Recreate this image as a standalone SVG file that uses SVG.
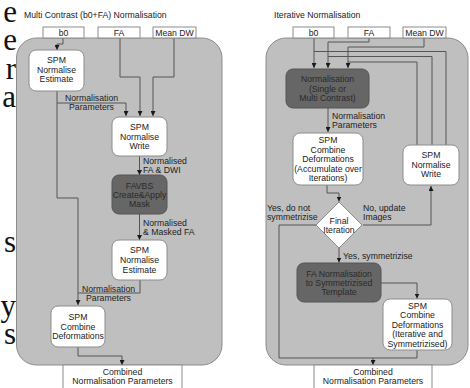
<svg xmlns="http://www.w3.org/2000/svg" width="470" height="388" viewBox="0 0 470 388">
<defs>
<marker id="ah" markerUnits="userSpaceOnUse" markerWidth="5" markerHeight="5" refX="5" refY="2.5" orient="auto">
<path d="M0,0 L5,2.5 L0,5 z" fill="#1a1a1a"/>
</marker>
<style>
.bg{font-family:"Liberation Serif",serif;font-size:31px;fill:#111;text-anchor:end}
.title{font-family:"Liberation Sans",Arial,sans-serif;font-size:8.7px;fill:#222}
.panel{fill:#bfbfbf;stroke:#8c8c8c;stroke-width:1}
.io{fill:#fff;stroke:#8c8c8c;stroke-width:1}
.node{fill:#fff;stroke:#8c8c8c;stroke-width:1}
.dark{fill:#666;stroke:#555;stroke-width:1}
.t{font-family:"Liberation Sans",Arial,sans-serif;font-size:8.7px;fill:#222;text-anchor:middle}
.td{font-family:"Liberation Sans",Arial,sans-serif;font-size:8.7px;fill:#2a2a2a;text-anchor:middle}
.l{font-family:"Liberation Sans",Arial,sans-serif;font-size:8.7px;fill:#222}
.e{fill:none;stroke:#555;stroke-width:1}
.a{marker-end:url(#ah)}
</style>
</defs>
<rect width="470" height="388" fill="#fff"/>
<g id="background-text">
<text class="bg" x="17" y="22">e</text>
<text class="bg" x="17" y="50">e</text>
<text class="bg" x="16" y="79">r</text>
<text class="bg" x="16" y="107">a</text>
<text class="bg" x="16" y="252">s</text>
<text class="bg" x="16" y="316">y</text>
<text class="bg" x="16" y="344">s</text>
</g>
<g id="titles">
<text class="title" x="24" y="18">Multi Contrast (b0+FA) Normalisation</text>
<text class="title" x="274" y="18">Iterative Normalisation</text>
</g>
<g id="panels">
<rect class="panel" x="16.5" y="38" width="205.5" height="327" rx="20"/>
<rect class="panel" x="266" y="38" width="202" height="327" rx="20"/>
</g>
<g id="connectors">
<path class="e a" d="M63,38 V44 H57 V50"/>
<path class="e a" d="M57,91 V198 H78 V305"/>
<path class="e a" d="M57,103 H126 V116"/>
<path class="e a" d="M120,38 V77 H140 V116"/>
<path class="e a" d="M174,38 V77 H153 V116"/>
<path class="e a" d="M139.5,156 V175"/>
<path class="e a" d="M139.5,214 V240"/>
<path class="e" d="M140,280 V293 H78"/>
<path class="e a" d="M78,347 V356 H122 V365"/>
<path class="e a" d="M314,38 V68"/>
<path class="e a" d="M369,38 V42 H328 V68"/>
<path class="e a" d="M424,38 V47 H348 V68"/>
<path class="e" d="M446,145 V51.5 H314"/>
<path class="e" d="M432,145 V56.5 H328"/>
<path class="e" d="M417,145 V62 H348"/>
<path class="e a" d="M328,108 V132"/>
<path class="e a" d="M327,185 V193 H339 V201.5"/>
<path class="e a" d="M363,225 H431 V186"/>
<path class="e a" d="M316,225 H279 V358 H373 V365"/>
<path class="e" d="M417,350 V358 H373"/>
<path class="e a" d="M339,248 V262.5"/>
<path class="e a" d="M381,283 H417 V298.5"/>
</g>
<g id="connector-labels">
<text class="l" x="91.5" y="101" text-anchor="middle">Normalisation</text>
<text class="l" x="91.5" y="110" text-anchor="middle">Parameters</text>
<text class="l" x="143" y="164">Normalised</text>
<text class="l" x="143" y="173">FA &amp; DWI</text>
<text class="l" x="143" y="226">Normalised</text>
<text class="l" x="143" y="235">&amp; Masked FA</text>
<text class="l" x="108.5" y="292" text-anchor="middle">Normalisation</text>
<text class="l" x="108.5" y="301" text-anchor="middle">Parameters</text>
<text class="l" x="332" y="119">Normalisation</text>
<text class="l" x="332" y="127.5">Parameters</text>
<text class="l" x="267" y="211">Yes, do not</text>
<text class="l" x="267" y="220">symmetrizise</text>
<text class="l" x="363" y="211">No, update</text>
<text class="l" x="363" y="220">Images</text>
<text class="l" x="343" y="259">Yes, symmetrizise</text>
</g>
<g id="in-b0-left"><rect class="io" x="43" y="27" width="41" height="11"/><text class="t" x="63.5" y="35.5">b0</text></g>
<g id="in-fa-left"><rect class="io" x="98" y="27" width="42" height="11"/><text class="t" x="119" y="35.5">FA</text></g>
<g id="in-md-left"><rect class="io" x="153" y="27" width="43" height="11"/><text class="t" x="174.5" y="35.5">Mean DW</text></g>
<g id="spm-est1">
<rect class="node" x="29" y="50" width="55" height="41" rx="7"/>
<text class="t" x="56.5" y="63">SPM</text><text class="t" x="56.5" y="72.5">Normalise</text><text class="t" x="56.5" y="82">Estimate</text>
</g>
<g id="spm-write-left">
<rect class="node" x="112" y="117" width="55" height="39" rx="7"/>
<text class="t" x="139.5" y="130">SPM</text><text class="t" x="139.5" y="139.5">Normalise</text><text class="t" x="139.5" y="149">Write</text>
</g>
<g id="favbs">
<rect class="dark" x="112" y="175" width="55" height="39" rx="7"/>
<text class="td" x="139.5" y="189">FAVBS</text><text class="td" x="139.5" y="198">Create&amp;Apply</text><text class="td" x="139.5" y="207">Mask</text>
</g>
<g id="spm-est2">
<rect class="node" x="112" y="240" width="55" height="40" rx="7"/>
<text class="t" x="139.5" y="253">SPM</text><text class="t" x="139.5" y="263">Normalise</text><text class="t" x="139.5" y="273">Estimate</text>
</g>
<g id="spm-combine-left">
<rect class="node" x="51" y="306" width="54" height="41" rx="7"/>
<text class="t" x="78" y="320">SPM</text><text class="t" x="78" y="329.5">Combine</text><text class="t" x="78" y="339">Deformations</text>
</g>
<g id="out-left">
<rect class="io" x="63" y="365" width="119" height="26"/>
<text class="t" x="122.5" y="375">Combined</text><text class="t" x="122.5" y="384">Normalisation Parameters</text>
</g>
<g id="in-b0-right"><rect class="io" x="293" y="27" width="41" height="11"/><text class="t" x="313.5" y="35.5">b0</text></g>
<g id="in-fa-right"><rect class="io" x="348" y="27" width="42" height="11"/><text class="t" x="369" y="35.5">FA</text></g>
<g id="in-md-right"><rect class="io" x="403" y="27" width="43" height="11"/><text class="t" x="424.5" y="35.5">Mean DW</text></g>
<g id="normalisation">
<rect class="dark" x="286" y="69" width="83" height="39" rx="7"/>
<text class="td" x="327.5" y="82">Normalisation</text><text class="td" x="327.5" y="91.5">(Single or</text><text class="td" x="327.5" y="101">Multi Contrast)</text>
</g>
<g id="spm-combine-accum">
<rect class="node" x="293" y="133" width="70" height="52" rx="7"/>
<text class="t" x="328" y="143">SPM</text><text class="t" x="328" y="152.5">Combine</text><text class="t" x="328" y="162">Deformations</text><text class="t" x="328" y="171.5">(Accumulate over</text><text class="t" x="328" y="181">Iterations)</text>
</g>
<g id="spm-write-right">
<rect class="node" x="403" y="145" width="56" height="40" rx="7"/>
<text class="t" x="431" y="158">SPM</text><text class="t" x="431" y="167.5">Normalise</text><text class="t" x="431" y="177">Write</text>
</g>
<g id="final-iteration">
<polygon points="339,202 362,225 339,248 316,225" fill="#fff" stroke="#8c8c8c"/>
<text class="t" x="339" y="223.5">Final</text><text class="t" x="339" y="233">Iteration</text>
</g>
<g id="fa-sym">
<rect class="dark" x="297" y="263" width="84" height="39" rx="7"/>
<text class="td" x="339" y="277">FA Normalisation</text><text class="td" x="339" y="286">to Symmetrizised</text><text class="td" x="339" y="295">Template</text>
</g>
<g id="spm-combine-sym">
<rect class="node" x="383" y="299" width="69" height="51" rx="7"/>
<text class="t" x="417.5" y="308.5">SPM</text><text class="t" x="417.5" y="318">Combine</text><text class="t" x="417.5" y="327.5">Deformations</text><text class="t" x="417.5" y="337">(Iterative and</text><text class="t" x="417.5" y="346.5">Symmetrizised)</text>
</g>
<g id="out-right">
<rect class="io" x="314" y="365" width="118" height="26"/>
<text class="t" x="373" y="375">Combined</text><text class="t" x="373" y="384">Normalisation Parameters</text>
</g>
</svg>
